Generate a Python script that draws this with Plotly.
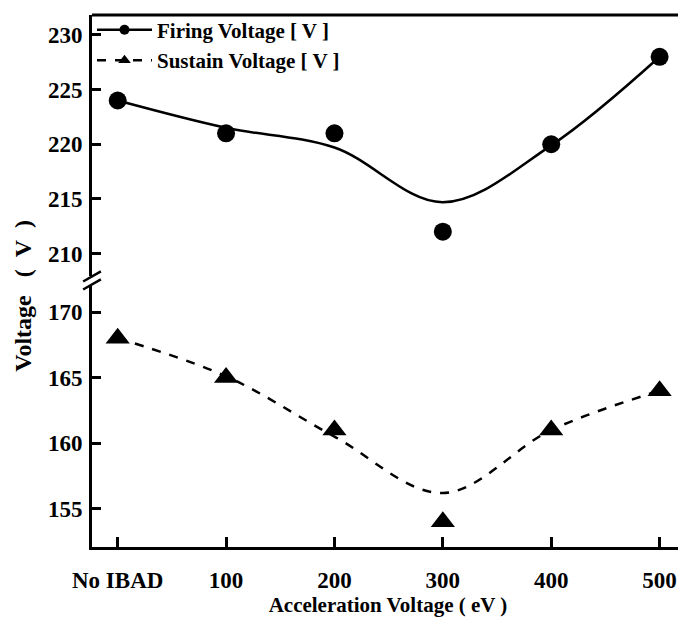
import plotly.graph_objects as go

categories = ["No IBAD", "100", "200", "300", "400", "500"]
firing = [224, 221, 221, 212, 220, 228]
sustain = [168, 165, 161, 154, 161, 164]
# smoothed fit curves
firing_fit = [224, 221.5, 219.7, 214.7, 219.9, 228]
sustain_fit = [168, 165.1, 160.5, 156.2, 161, 164]

top_ticks = [210, 215, 220, 225, 230]
bottom_ticks = [155, 160, 165, 170]

xpos = list(range(len(categories)))
FONT = "Liberation Serif"

fig = go.Figure()
fig.add_trace(go.Scatter(x=xpos, y=firing_fit, mode="lines", line=dict(color="black", width=2.5, shape="spline", smoothing=1.0),
                         xaxis="x", yaxis="y2", showlegend=False, hoverinfo="skip"))
fig.add_trace(go.Scatter(x=xpos, y=firing, mode="markers", marker=dict(symbol="circle", size=18, color="black"),
                         xaxis="x", yaxis="y2", showlegend=False))
fig.add_trace(go.Scatter(x=xpos, y=sustain_fit, mode="lines", line=dict(color="black", width=2.5, dash="dash", shape="spline", smoothing=1.0),
                         xaxis="x", yaxis="y", showlegend=False, hoverinfo="skip"))
fig.add_trace(go.Scatter(x=xpos, y=sustain, mode="markers", marker=dict(symbol="triangle-up", size=21, color="black"),
                         xaxis="x", yaxis="y", showlegend=False))
fig.add_trace(go.Scatter(x=[None], y=[None], mode="lines+markers", name="<b>Firing Voltage [ V ]</b>",
                         line=dict(color="black", width=2.5), marker=dict(symbol="circle", size=10, color="black"),
                         xaxis="x", yaxis="y2"))
fig.add_trace(go.Scatter(x=[None], y=[None], mode="lines+markers", name="<b>Sustain Voltage [ V ]</b>",
                         line=dict(color="black", width=2.5, dash="dash"), marker=dict(symbol="triangle-up", size=11, color="black"),
                         xaxis="x", yaxis="y"))

tickfont = dict(family=FONT, size=23, color="black", weight="bold")
common = dict(ticks="inside", tickwidth=2.5, tickcolor="black", showline=True, linecolor="black", linewidth=3,
              showgrid=False, zeroline=False, automargin=False, tickfont=tickfont)
fig.update_layout(
    width=678, height=611,
    margin=dict(l=84, r=2, t=4, b=72),
    plot_bgcolor="white", paper_bgcolor="white",
    font=dict(family=FONT, color="black"),
    xaxis=dict(range=[-0.237, 5.225], tickvals=xpos, ticktext=categories, ticklen=10, anchor="y",
               ticklabelstandoff=10,
               title=dict(text="<b>Acceleration Voltage ( eV )</b>", font=dict(family=FONT, size=21), standoff=6),
               **common),
    yaxis=dict(domain=[0, 0.49], range=[152.08, 171.96], tickvals=bottom_ticks, ticklen=9, anchor="x",
               ticklabelstandoff=2, **common),
    yaxis2=dict(domain=[0.51, 1], range=[207.98, 231.82], tickvals=top_ticks, ticklen=9, anchor="x",
                ticklabelstandoff=2, **common),
    legend=dict(x=0.0, y=1.01, xanchor="left", yanchor="top", bgcolor="rgba(0,0,0,0)",
                font=dict(family=FONT, size=21, color="black"), tracegroupgap=0, itemwidth=55),
    showlegend=True,
)

fig.add_shape(type="line", xref="paper", yref="paper", x0=0, x1=1, y0=1, y1=1, line=dict(color="black", width=3))
fig.add_shape(type="line", xref="paper", yref="paper", x0=1, x1=1, y0=0, y1=1, line=dict(color="black", width=2))
for (y0, y1) in [(0.499, 0.518), (0.484, 0.503)]:
    fig.add_shape(type="line", xref="paper", yref="paper", x0=-0.015, x1=0.015, y0=y0, y1=y1, line=dict(color="black", width=2.5))

fig.add_annotation(text="<b>Voltage&nbsp;&nbsp;&nbsp;(&nbsp;&nbsp;V&nbsp;&nbsp;)</b>", xref="paper", yref="paper",
                   x=-0.116, y=0.473, xanchor="center", yanchor="middle", textangle=-90,
                   showarrow=False, font=dict(family=FONT, size=24, color="black"))

fig.write_html("out.html")
